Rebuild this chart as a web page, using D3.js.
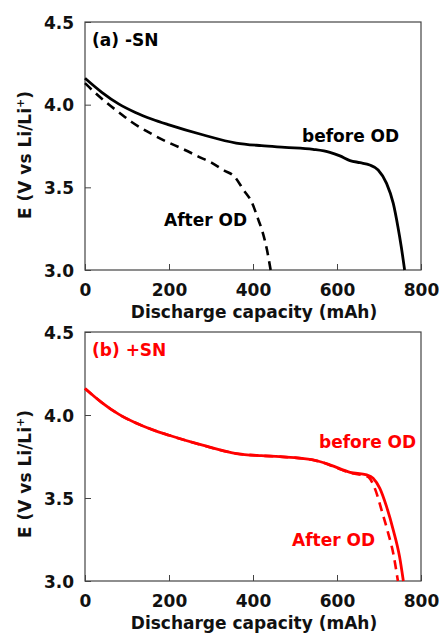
<!DOCTYPE html>
<html>
<head>
<meta charset="utf-8">
<script src="https://cdn.jsdelivr.net/npm/d3@7"></script>
<style>
  body { margin: 0; background: #fff; }
  text { font-family: "DejaVu Sans", Verdana, sans-serif; font-weight: bold; }
</style>
</head>
<body>
<div id="chart"></div>
<script>
// (a) -SN : capacity (mAh), potential (V)
const aBeforeCap = [0, 40, 80, 120, 160, 200, 280, 360, 420, 476, 543, 583, 607, 631, 655, 678, 698, 718, 734, 745, 753, 761];
const aBeforeE   = [4.16, 4.075, 4.005, 3.953, 3.912, 3.878, 3.818, 3.768, 3.752, 3.742, 3.73, 3.712, 3.69, 3.662, 3.649, 3.635, 3.605, 3.524, 3.403, 3.262, 3.141, 3.0];
const aAfterCap  = [0, 25, 50, 80, 111, 150, 183, 238, 270, 302, 329, 357, 377, 397, 413, 421, 433, 442];
const aAfterE    = [4.13, 4.07, 4.015, 3.955, 3.895, 3.835, 3.79, 3.726, 3.686, 3.648, 3.605, 3.562, 3.486, 3.41, 3.302, 3.245, 3.125, 3.0];

// (b) +SN
const bBeforeCap = [0, 40, 80, 120, 160, 200, 280, 360, 420, 464, 543, 583, 631, 671, 686, 702, 718, 734, 749, 758];
const bBeforeE   = [4.16, 4.075, 4.005, 3.953, 3.912, 3.878, 3.818, 3.768, 3.755, 3.749, 3.729, 3.700, 3.655, 3.639, 3.619, 3.558, 3.448, 3.307, 3.146, 3.0];
const bAfterCap  = [0, 40, 80, 120, 160, 200, 280, 360, 420, 464, 543, 575, 600, 631, 660, 675, 691, 706, 722, 734, 745];
const bAfterE    = [4.16, 4.075, 4.005, 3.953, 3.912, 3.878, 3.818, 3.768, 3.755, 3.749, 3.729, 3.706, 3.680, 3.652, 3.638, 3.626, 3.552, 3.428, 3.287, 3.166, 3.0];

const xTicks = [0, 200, 400, 600, 800];
const yTicks = [3.0, 3.5, 4.0, 4.5];

const panels = [
  { top: 22, bottom: 270, color: "#000", label: "(a) -SN",
    before: [aBeforeCap, aBeforeE], after: [aAfterCap, aAfterE],
    beforeLab: [302, 136], afterLab: [164, 220], yLabC: 155 },
  { top: 332, bottom: 581, color: "#ff0000", label: "(b) +SN",
    before: [bBeforeCap, bBeforeE], after: [bAfterCap, bAfterE],
    beforeLab: [319, 442], afterLab: [292, 540], yLabC: 474 }
];

const W = 439, H = 634;
const left = 85, right = 421;

const svg = d3.select("#chart").append("svg")
  .attr("width", W).attr("height", H);

const x = d3.scaleLinear().domain([0, 800]).range([left, right]);

panels.forEach(p => {
  const y = d3.scaleLinear().domain([3.0, 4.5]).range([p.bottom, p.top]);
  const g = svg.append("g");

  // inner ticks
  const xAxis = d3.axisBottom(x).tickValues(xTicks).tickSize(-6).tickFormat(d3.format("d"));
  const gx = g.append("g").attr("transform", `translate(0,${p.bottom})`).call(xAxis);
  gx.select(".domain").remove();
  gx.selectAll("line").attr("stroke", "#444");
  gx.selectAll("text").attr("dy", null).attr("y", 26)
    .style("font-size", "17px").attr("fill", "#111");

  const yAxis = d3.axisLeft(y).tickValues(yTicks).tickSize(-6).tickFormat(d3.format(".1f"));
  const gy = g.append("g").attr("transform", `translate(${left},0)`).call(yAxis);
  gy.select(".domain").remove();
  gy.selectAll("line").attr("stroke", "#444");
  gy.selectAll("text").attr("x", -11).attr("dy", "0.36em")
    .style("font-size", "17px").attr("fill", "#111");

  // frame
  g.append("rect")
    .attr("x", left).attr("y", p.top)
    .attr("width", right - left).attr("height", p.bottom - p.top)
    .attr("fill", "none").attr("stroke", "#444").attr("stroke-width", 1.2);

  const line = d3.line().curve(d3.curveMonotoneX)
    .x(d => x(d[0])).y(d => y(d[1]));

  const mk = arr => arr[0].map((c, i) => [c, arr[1][i]]);

  g.append("path").datum(mk(p.after))
    .attr("d", line)
    .attr("fill", "none").attr("stroke", p.color).attr("stroke-width", 2.6)
    .attr("stroke-dasharray", "9,6");

  g.append("path").datum(mk(p.before))
    .attr("d", line)
    .attr("fill", "none").attr("stroke", p.color).attr("stroke-width", 2.8);

  g.append("text").attr("x", 92).attr("y", p.top + 24)
    .attr("fill", p.color).style("font-size", "17px").text(p.label);

  g.append("text").attr("x", p.beforeLab[0]).attr("y", p.beforeLab[1] + 6)
    .attr("fill", p.color).style("font-size", "17px").text("before OD");
  g.append("text").attr("x", p.afterLab[0]).attr("y", p.afterLab[1] + 6)
    .attr("fill", p.color).style("font-size", "17px").text("After OD");

  // axis titles
  g.append("text").attr("x", (left + right) / 2 + 1).attr("y", p.bottom + 48)
    .attr("text-anchor", "middle").attr("fill", "#111").style("font-size", "17px")
    .text("Discharge capacity (mAh)");

  const yl = g.append("text")
    .attr("transform", `translate(31,${p.yLabC}) rotate(-90)`)
    .attr("text-anchor", "middle").attr("fill", "#111").style("font-size", "17px");
  yl.append("tspan").text("E (V vs Li/Li");
  yl.append("tspan").attr("dy", -7).style("font-size", "11px").text("+");
  yl.append("tspan").attr("dy", 7).text(")");
});
</script>
</body>
</html>
